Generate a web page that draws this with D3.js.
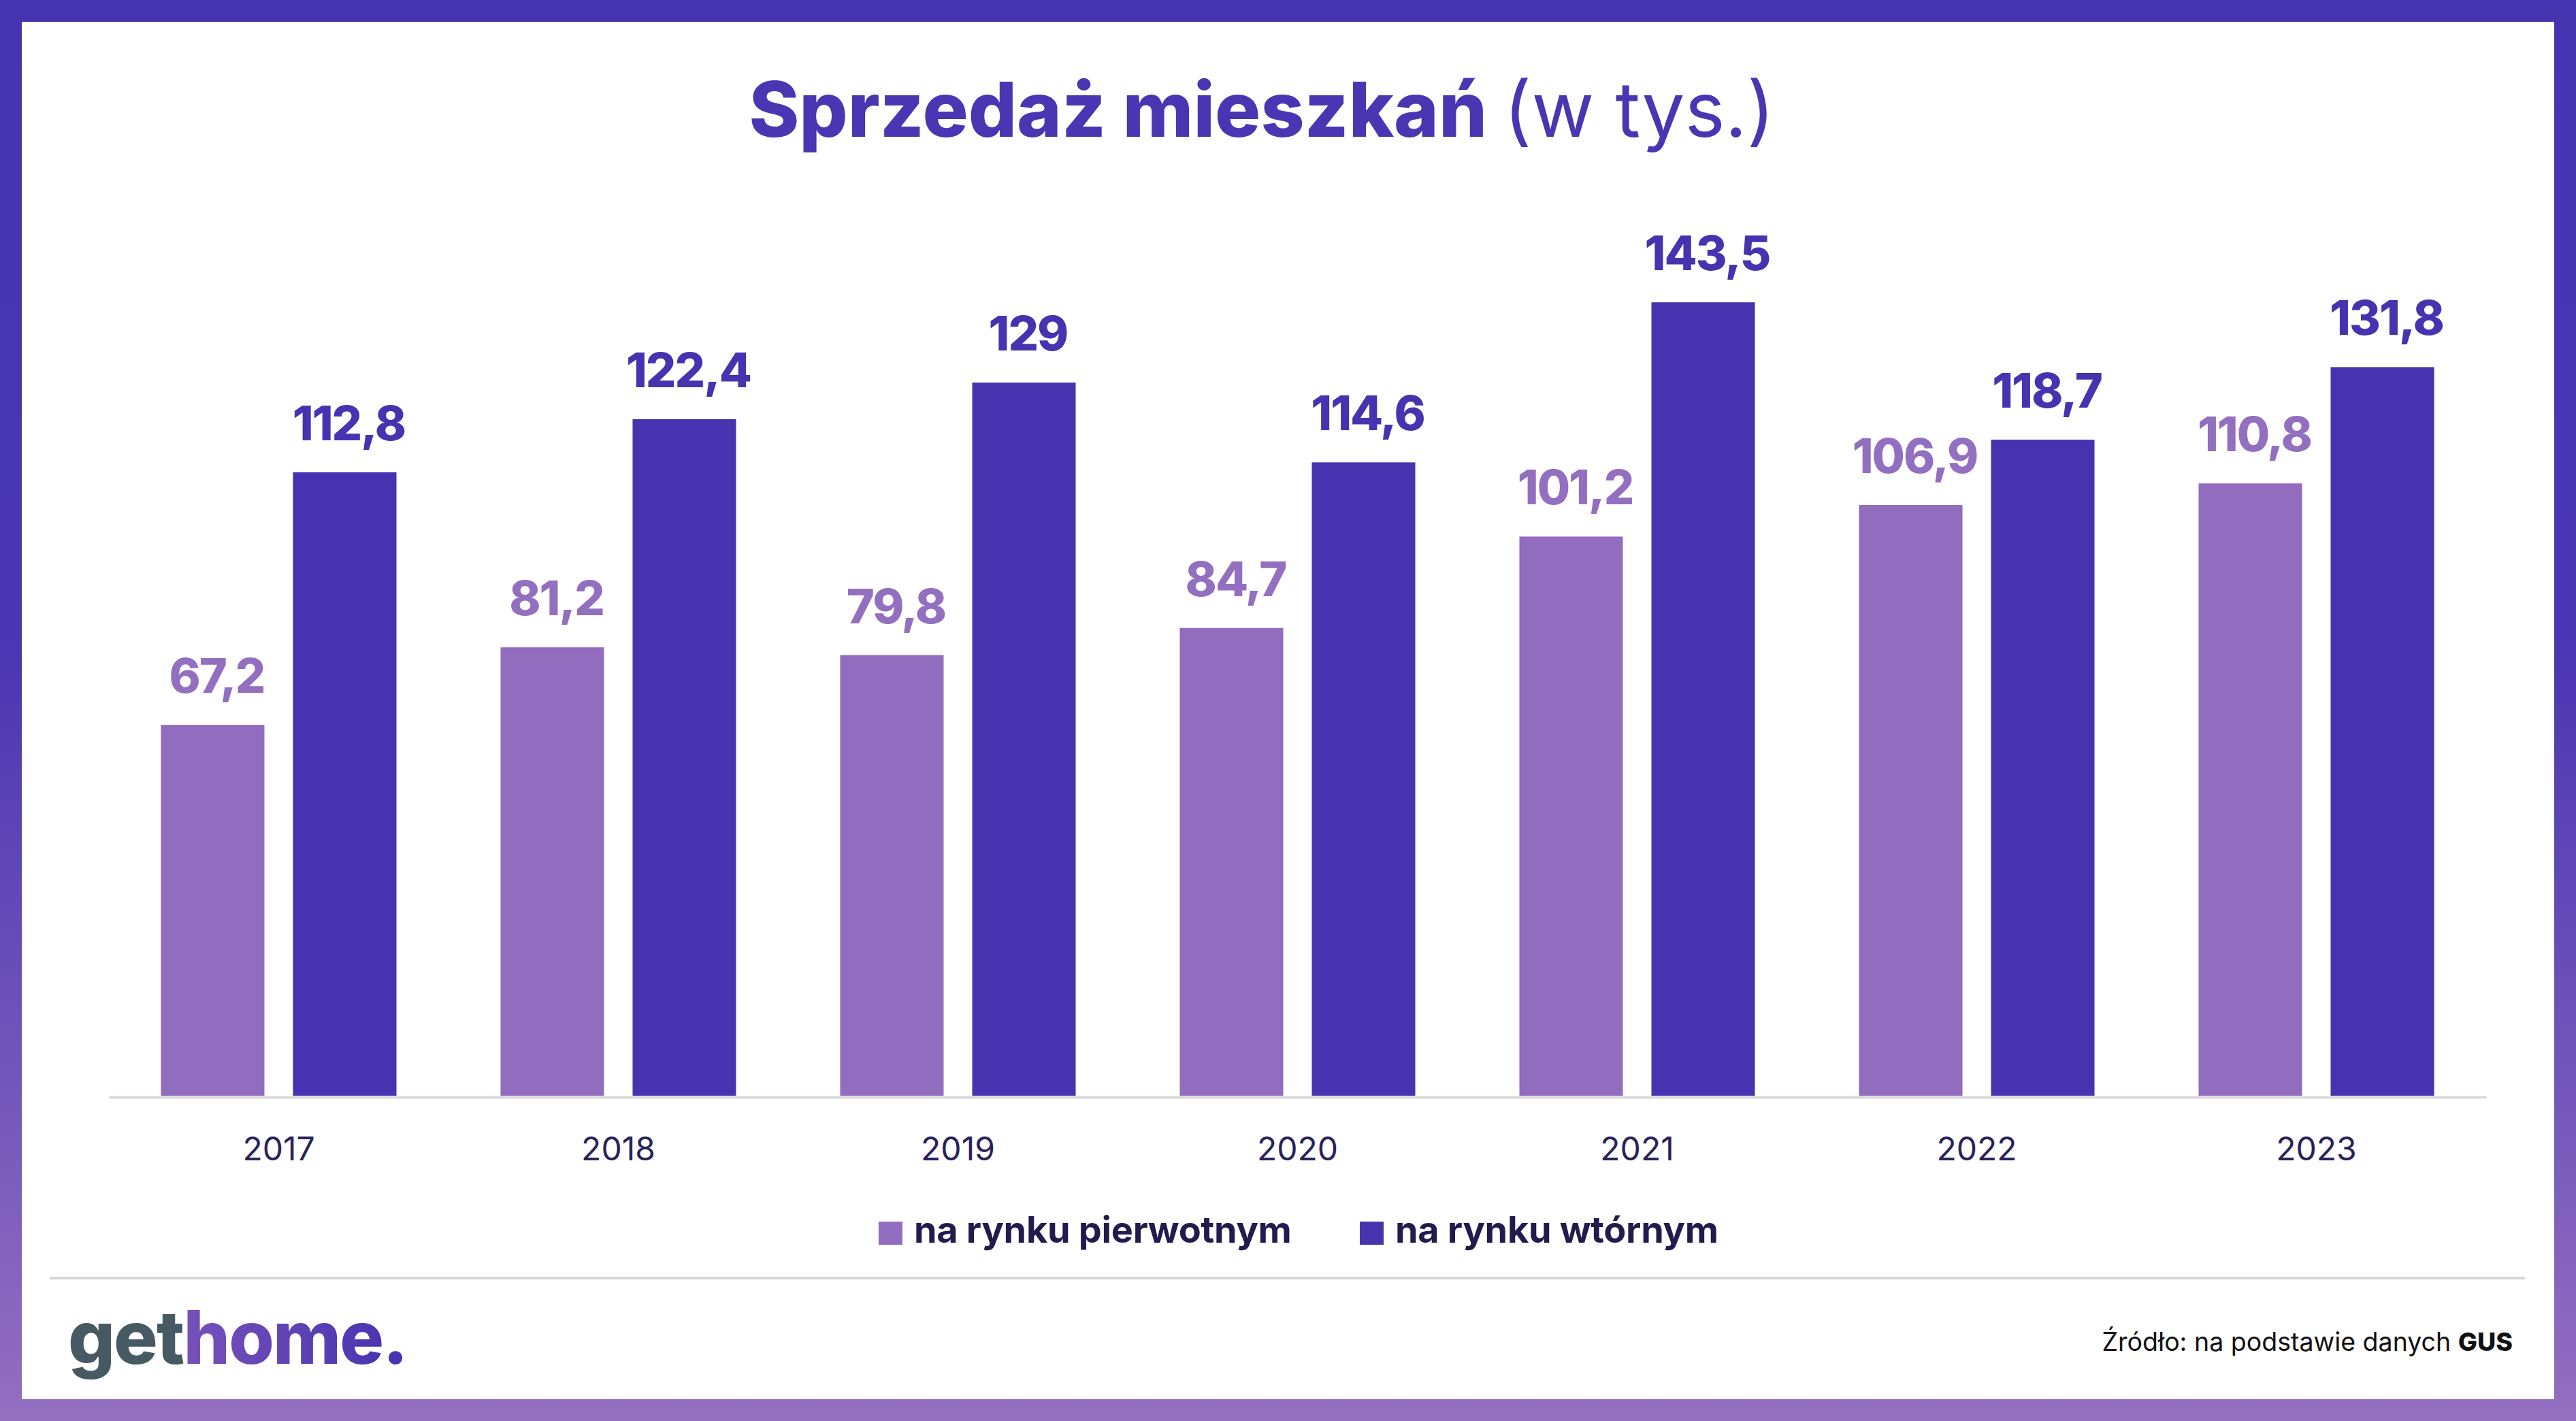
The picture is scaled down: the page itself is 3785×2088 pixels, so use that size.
<!DOCTYPE html>
<html>
<head>
<meta charset="utf-8">
<script src="https://cdn.jsdelivr.net/npm/d3@7"></script>
<style>
  html, body { margin: 0; padding: 0; background: #ffffff; }
  svg { display: block; }
</style>
</head>
<body>
<script>
// ---- data ----
const years = ["2017", "2018", "2019", "2020", "2021", "2022", "2023"];
const seriesKeys = ["pierwotny", "wtorny"];
const seriesNames = ["na rynku pierwotnym", "na rynku wtórnym"];
const primaryValues = [67.2, 81.2, 79.8, 84.7, 101.2, 106.9, 110.8];
const secondaryValues = [112.8, 122.4, 129, 114.6, 143.5, 118.7, 131.8];
const titleBold = "Sprzedaż mieszkań";
const titleRegular = "(w tys.)";
const sourcePrefix = "Źródło: na podstawie danych ";
const sourceBold = "GUS";

const W = 3785, H = 2088;
const colors = { pierwotny: "#916CBF", wtorny: "#4733B0" };
const labelColors = { pierwotny: "#936FC0", wtorny: "#4733B0" };

const svg = d3.select("body").append("svg")
  .attr("width", W).attr("height", H);

const defs = svg.append("defs");
const frameGrad = defs.append("linearGradient")
  .attr("id", "frameGrad").attr("x1", 0).attr("y1", 0).attr("x2", 0).attr("y2", 1);
frameGrad.append("stop").attr("offset", "0").attr("stop-color", "#4533B0");
frameGrad.append("stop").attr("offset", "0.45").attr("stop-color", "#4A36B2");
frameGrad.append("stop").attr("offset", "1").attr("stop-color", "#936FC0");

const logoGrad = defs.append("linearGradient")
  .attr("id", "logoGrad").attr("x1", 0).attr("y1", 0).attr("x2", 1).attr("y2", 0);
logoGrad.append("stop").attr("offset", "0").attr("stop-color", "#9160C0");
logoGrad.append("stop").attr("offset", "1").attr("stop-color", "#4533B0");

// frame
svg.append("rect").attr("x", 0).attr("y", 0).attr("width", W).attr("height", H)
  .attr("fill", "url(#frameGrad)");
svg.append("rect").attr("x", 32).attr("y", 32).attr("width", W - 64).attr("height", H - 64)
  .attr("fill", "#ffffff");

// title
const title = svg.append("text")
  .attr("x", 1854).attr("y", 201)
  .attr("text-anchor", "middle")
  .attr("font-family", "Inter, 'Noto Sans', sans-serif")
  .attr("font-size", 112)
  .attr("fill", "#4A35B2");
title.append("tspan").attr("font-weight", 800).text(titleBold + " ");
title.append("tspan").attr("font-weight", 400).text(titleRegular);

// scales
const x0 = d3.scaleBand().domain(years).range([160, 3653])
  .paddingInner(0.3066).paddingOuter(0.1533);
const x1 = d3.scaleBand().domain(seriesKeys).range([0, x0.bandwidth()])
  .paddingInner(0.2165).paddingOuter(0);
const y = d3.scaleLinear().domain([0, 150]).range([1612, 1612 - 150 * 8.138]);

const data = years.map((yr, i) => ({
  year: yr,
  values: [
    { key: "pierwotny", value: primaryValues[i] },
    { key: "wtorny", value: secondaryValues[i] }
  ]
}));

const fmt = v => (Number.isInteger(v) ? String(v) : v.toFixed(1).replace(".", ","));

// axis
const axis = svg.append("g")
  .attr("transform", `translate(0, ${y(0)})`)
  .call(d3.axisBottom(x0).tickSize(0).tickPadding(59));
axis.select(".domain").attr("stroke", "#D9D9D9").attr("stroke-width", 4);
axis.selectAll(".tick text")
  .attr("font-family", "Inter, 'Noto Sans', sans-serif")
  .attr("font-size", 48)
  .attr("font-weight", 400)
  .attr("fill", "#2A2259");

// bars
const groups = svg.append("g").selectAll("g").data(data).join("g")
  .attr("transform", d => `translate(${x0(d.year)},0)`);

groups.selectAll("rect").data(d => d.values).join("rect")
  .attr("x", d => x1(d.key))
  .attr("width", x1.bandwidth())
  .attr("y", d => y(d.value))
  .attr("height", d => y(0) - 2 - y(d.value))
  .attr("fill", d => colors[d.key]);

groups.selectAll("text.val").data(d => d.values).join("text")
  .attr("class", "val")
  .attr("x", d => x1(d.key) + x1.bandwidth() / 2 + 6)
  .attr("y", d => y(d.value) - 47)
  .attr("text-anchor", "middle")
  .attr("font-family", "Inter, 'Noto Sans', sans-serif")
  .attr("font-weight", 800)
  .attr("font-size", 70)
  .attr("letter-spacing", -2)
  .attr("fill", d => labelColors[d.key])
  .text(d => fmt(d.value));

// legend
const legendX = [1291, 1998];
const legend = svg.append("g").selectAll("g").data(seriesKeys).join("g")
  .attr("transform", (d, i) => `translate(${legendX[i]}, 1795)`);
legend.append("rect").attr("x", 0).attr("y", 0).attr("width", 35).attr("height", 34)
  .attr("fill", d => colors[d]);
legend.append("text").attr("x", 52).attr("y", 31)
  .attr("font-family", "Inter, 'Noto Sans', sans-serif")
  .attr("font-weight", 700)
  .attr("font-size", 54)
  .attr("letter-spacing", -0.3)
  .attr("fill", "#221B4E")
  .text((d, i) => seriesNames[i]);

// divider
svg.append("line").attr("x1", 73).attr("x2", 3710).attr("y1", 1878).attr("y2", 1878)
  .attr("stroke", "#D6D6D6").attr("stroke-width", 4);

// logo
const logo = svg.append("text").attr("x", 100).attr("y", 2004)
  .attr("font-family", "Inter, 'Noto Sans', sans-serif")
  .attr("font-weight", 800)
  .attr("font-size", 108)
  .attr("letter-spacing", -2);
logo.append("tspan").attr("fill", "#475A63").text("get");
logo.append("tspan").attr("fill", "url(#logoGrad)").text("home.");

// source
const src = svg.append("text").attr("x", 3692).attr("y", 1985)
  .attr("text-anchor", "end")
  .attr("font-family", "Inter, 'Noto Sans', sans-serif")
  .attr("font-size", 37.5)
  .attr("fill", "#111111");
src.append("tspan").attr("font-weight", 400).text(sourcePrefix);
src.append("tspan").attr("font-weight", 800).text(sourceBold);
</script>
</body>
</html>
